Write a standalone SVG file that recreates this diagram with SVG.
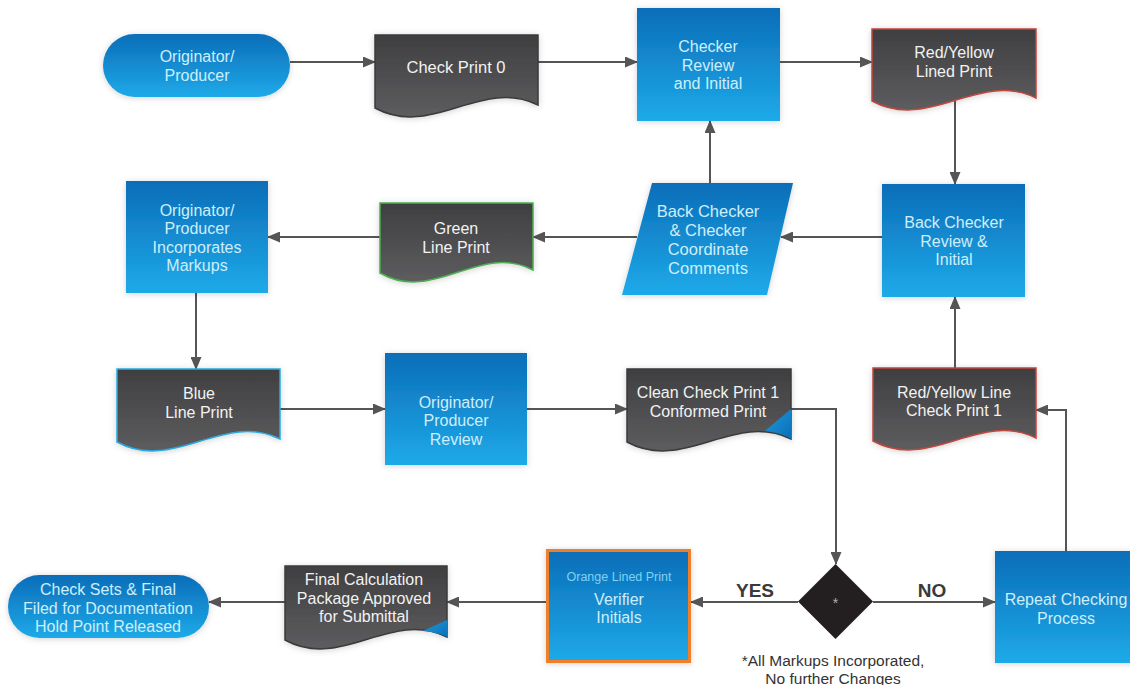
<svg xmlns="http://www.w3.org/2000/svg" width="1130" height="685" viewBox="0 0 1130 685">
<defs>
<linearGradient id="gBlue" x1="0" y1="0" x2="0" y2="1"><stop offset="0" stop-color="#0b6db8"/><stop offset="1" stop-color="#1eaae9"/></linearGradient>
<linearGradient id="gGray" x1="0" y1="0" x2="0" y2="1"><stop offset="0" stop-color="#3f3f41"/><stop offset="1" stop-color="#5d5d5f"/></linearGradient>
<linearGradient id="gCurl" x1="0" y1="0" x2="1" y2="1"><stop offset="0" stop-color="#1f9be0"/><stop offset="1" stop-color="#0a6eb5"/></linearGradient>
<filter id="sh" x="-10%" y="-10%" width="120%" height="130%"><feDropShadow dx="0" dy="1" stdDeviation="3" flood-color="#000" flood-opacity="0.18"/></filter>
<marker id="ah" markerUnits="userSpaceOnUse" markerWidth="13" markerHeight="11" refX="12" refY="5.5" orient="auto"><path d="M0,0 L13,5.5 L0,11 Z" fill="#555"/></marker>
<style>
.blue{fill:url(#gBlue);filter:url(#sh)}
.doc{fill:url(#gGray);filter:url(#sh);stroke-width:1.5}
.t{font-family:"Liberation Sans",Arial,sans-serif;font-size:16px;text-anchor:middle}
.tb{fill:#cdeefa}
.tg{fill:#f2f2f2}
.lbl{font-family:"Liberation Sans",Arial,sans-serif;font-weight:bold;font-size:19px;fill:#3a3a3a;text-anchor:middle}
.c{fill:none;stroke:#555;stroke-width:2}
</style>
</defs>
<rect width="1130" height="685" fill="#fff"/>

<g id="connectors">
<path class="c" d="M290,62 H375" marker-end="url(#ah)"/>
<path class="c" d="M538,62 H637" marker-end="url(#ah)"/>
<path class="c" d="M780,62 H872" marker-end="url(#ah)"/>
<path class="c" d="M955,101 V184" marker-end="url(#ah)"/>
<path class="c" d="M882,237 H781" marker-end="url(#ah)"/>
<path class="c" d="M710,183 V121" marker-end="url(#ah)"/>
<path class="c" d="M637,237 H533" marker-end="url(#ah)"/>
<path class="c" d="M380,237 H268" marker-end="url(#ah)"/>
<path class="c" d="M196,293 V369" marker-end="url(#ah)"/>
<path class="c" d="M280,409 H385" marker-end="url(#ah)"/>
<path class="c" d="M527,409 H627" marker-end="url(#ah)"/>
<path class="c" d="M791,409 H836 V564" marker-end="url(#ah)"/>
<path class="c" d="M798,602 H691" marker-end="url(#ah)"/>
<path class="c" d="M546,602 H447" marker-end="url(#ah)"/>
<path class="c" d="M285,602 H209" marker-end="url(#ah)"/>
<path class="c" d="M873,602 H995" marker-end="url(#ah)"/>
<path class="c" d="M1066,551 V410 H1036" marker-end="url(#ah)"/>
<path class="c" d="M955,368 V297" marker-end="url(#ah)"/>
<text class="lbl" x="755" y="597">YES</text>
<text class="lbl" x="932" y="597">NO</text>
</g>

<g id="n-originator">
<rect class="blue" x="103" y="34" width="187" height="63" rx="31.5"/>
<text class="t tb"><tspan x="197" y="62">Originator/</tspan><tspan x="197" y="80.5">Producer</tspan></text>
</g>

<g id="n-checkprint0">
<path class="doc" stroke="#3a3a3a" d="M375,35 H538 V105 C481,77 432,139 375,108 Z"/>
<text class="t tg" style="font-size:16.5px" x="456" y="73">Check Print 0</text>
</g>

<g id="n-checker">
<rect class="blue" x="637" y="8" width="143" height="113"/>
<text class="t tb"><tspan x="708" y="52">Checker</tspan><tspan x="708" y="70.5">Review</tspan><tspan x="708" y="89">and Initial</tspan></text>
</g>

<g id="n-redyellow">
<path class="doc" stroke="#c2463c" d="M872,29 H1036 V98 C979,70 929,132 872,101 Z"/>
<text class="t tg"><tspan x="954" y="58">Red/Yellow</tspan><tspan x="954" y="76.5">Lined Print</tspan></text>
</g>

<g id="n-backchecker">
<rect class="blue" x="882" y="184" width="143" height="113"/>
<text class="t tb"><tspan x="954" y="228">Back Checker</tspan><tspan x="954" y="246.5">Review &amp;</tspan><tspan x="954" y="265">Initial</tspan></text>
</g>

<g id="n-coordinate">
<path class="blue" d="M652,183 H793 L767,295 H622 Z"/>
<text class="t tb" style="font-size:16.5px"><tspan x="708" y="216.5">Back Checker</tspan><tspan x="708" y="235.5">&amp; Checker</tspan><tspan x="708" y="254.5">Coordinate</tspan><tspan x="708" y="273.5">Comments</tspan></text>
</g>

<g id="n-green">
<path class="doc" stroke="#4caf50" d="M380,203 H533 V270 C479.5,242 433.5,304 380,273 Z"/>
<text class="t tg"><tspan x="456" y="234">Green</tspan><tspan x="456" y="252.5">Line Print</tspan></text>
</g>

<g id="n-incorporates">
<rect class="blue" x="126" y="181" width="142" height="112"/>
<text class="t tb"><tspan x="197" y="215.5">Originator/</tspan><tspan x="197" y="234">Producer</tspan><tspan x="197" y="252.5">Incorporates</tspan><tspan x="197" y="271">Markups</tspan></text>
</g>

<g id="n-blueline">
<path class="doc" stroke="#2aaae2" d="M117,369 H280 V439 C223,411 174,473 117,442 Z"/>
<text class="t tg"><tspan x="199" y="399">Blue</tspan><tspan x="199" y="417.5">Line Print</tspan></text>
</g>

<g id="n-review">
<rect class="blue" x="385" y="353" width="142" height="112"/>
<text class="t tb"><tspan x="456" y="407.5">Originator/</tspan><tspan x="456" y="426">Producer</tspan><tspan x="456" y="444.5">Review</tspan></text>
</g>

<g id="n-clean">
<path class="doc" stroke="#3a3a3a" d="M627,369 H791 V439 C733.6,411 684.4,473 627,442 Z"/>
<path d="M791,409 L765,431 Q780,432 791,439 Z" fill="url(#gCurl)"/>
<text class="t tg"><tspan x="708" y="398">Clean Check Print 1</tspan><tspan x="708" y="416.5">Conformed Print</tspan></text>
</g>

<g id="n-redyellow1">
<path class="doc" stroke="#c2463c" d="M873,368 H1036 V438 C979,410 930,472 873,441 Z"/>
<text class="t tg"><tspan x="954" y="397.5">Red/Yellow Line</tspan><tspan x="954" y="416">Check Print 1</tspan></text>
</g>

<g id="n-decision">
<path d="M835.5,564 L873,601.5 L835.5,639 L798,601.5 Z" fill="#231f20"/>
<text class="t" style="font-size:14px;fill:#b0b0b0" x="835.5" y="608">*</text>
<text class="t" style="font-size:15.5px;fill:#333"><tspan x="833" y="666">*All Markups Incorporated,</tspan><tspan x="833" y="684">No further Changes</tspan></text>
</g>

<g id="n-repeat">
<rect class="blue" x="995" y="551" width="145" height="112"/>
<text class="t tb"><tspan x="1066" y="605">Repeat Checking</tspan><tspan x="1066" y="623.5">Process</tspan></text>
</g>

<g id="n-verifier">
<rect class="blue" x="547.5" y="550.5" width="142" height="111" stroke="#f07f2a" stroke-width="3"/>
<text class="t" style="font-size:12.5px;fill:#7fd2f2" x="619" y="581">Orange Lined Print</text>
<text class="t tb"><tspan x="619" y="604.5">Verifier</tspan><tspan x="619" y="623">Initials</tspan></text>
</g>

<g id="n-final">
<path class="doc" stroke="#3a3a3a" d="M285,566 H447 V637 C390.3,609 341.7,671 285,640 Z"/>
<path d="M447,620 L423,631 Q436,632 447,637 Z" fill="url(#gCurl)"/>
<text class="t tg"><tspan x="364" y="585">Final Calculation</tspan><tspan x="364" y="603.5">Package Approved</tspan><tspan x="364" y="622">for Submittal</tspan></text>
</g>

<g id="n-checksets">
<rect class="blue" x="8" y="575" width="201" height="63" rx="31.5"/>
<text class="t tb"><tspan x="108" y="595">Check Sets &amp; Final</tspan><tspan x="108" y="613.5">Filed for Documentation</tspan><tspan x="108" y="632">Hold Point Released</tspan></text>
</g>
</svg>
